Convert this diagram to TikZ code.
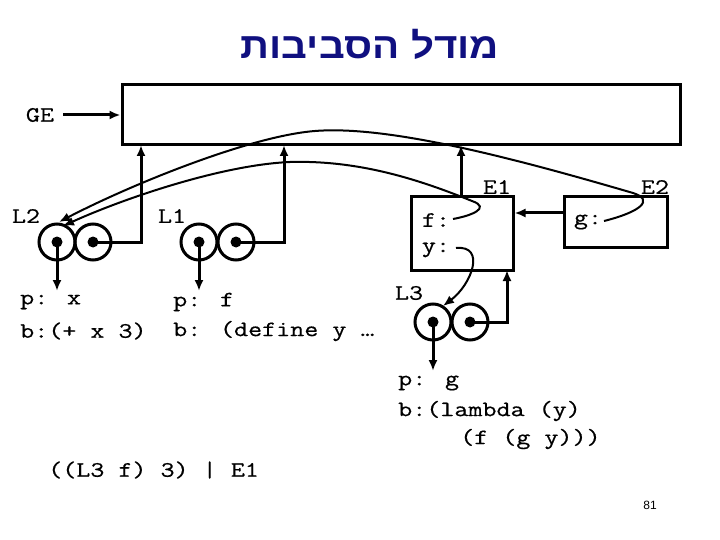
\documentclass[tikz,border=0pt]{standalone}
\usepackage{fontspec}
\setmainfont{Liberation Serif}
\newfontfamily\codefont[FakeStretch=1.24,FakeBold=0.6]{Latin Modern Mono}
\newfontfamily\hebfont[Script=Hebrew,FakeStretch=1.12]{Liberation Sans}
\newfontfamily\numfont{Liberation Sans}
\TeXXeTstate=1
\usetikzlibrary{arrows.meta,calc}
\definecolor{titleblue}{RGB}{16,16,128}
\begin{document}
\begin{tikzpicture}[x=1pt,y=-1pt,
  arr/.style={line width=3pt,-{Latex[length=11pt,width=9pt]}},
  curve/.style={line width=2pt,-{Latex[length=11pt,width=9pt]}},
  framebox/.style={draw,line width=3pt,inner sep=0pt},
  cell/.style={circle,draw,line width=3pt,minimum size=36pt,inner sep=0pt,
    path picture={\fill (path picture bounding box.center) circle (5.5pt);}},
  code/.style={font=\codefont\fontsize{22}{26}\selectfont,inner sep=0pt},
  codel/.style={code,anchor=west}]
\useasboundingbox (0,0) rectangle (720,540);
% title
\node[text=titleblue,font=\hebfont\bfseries\fontsize{36}{40}\selectfont] (title) at (370,44) {\beginR מודל הסביבות\endR};
% global environment
\node[framebox,minimum width=558pt,minimum height=60pt] (ge) at (401,115) {};
\node[code] (gelbl) at (40,115) {GE};
\coordinate (gein) at (63,115);
\draw[arr] (gein) -- (ge.west);
% L2
\node[code] (l2lbl) at (26,216) {L2};
\node[cell] (c2a) at (57,242) {};
\node[cell] (c2b) at (93,242) {};
\coordinate (c2down) at (57,291);
\draw[arr] (c2a.center) -- (c2down);
\coordinate (c2up) at (141,145);
\draw[arr] (c2b.center) -| (c2up);
\node[codel] (l2p) at (20,302) {p: x};
\node[codel] (l2b) at (20,331) {b:(+ x 3)};
% L1
\node[code] (l1lbl) at (172,216) {L1};
\node[cell] (c1a) at (199,242) {};
\node[cell] (c1b) at (236,242) {};
\coordinate (c1down) at (199,291);
\draw[arr] (c1a.center) -- (c1down);
\coordinate (c1up) at (284,145);
\draw[arr] (c1b.center) -| (c1up);
\node[codel] (l1p) at (173,302) {p: f};
\node[codel] (l1b) at (173,331) {b: (define y …};
% E1
\node[framebox,minimum width=102pt,minimum height=73pt] (e1) at (462,233.5) {};
\node[code] (e1lbl) at (497,187) {E1};
\node[code] (e1f) at (436,220) {f:};
\node[code] (e1y) at (436,250) {y:};
\coordinate (e1up) at (461,145);
\draw[arr] (e1.north -| e1up) -- (e1up);
% E2
\node[framebox,minimum width=103pt,minimum height=50pt] (e2) at (615.5,222) {};
\node[code] (e2lbl) at (655,187) {E2};
\node[code] (e2g) at (588,222) {g:};
\draw[arr] (e2.west |- 0,213) -- (e1.east |- 0,213);
% L3
\node[code] (l3lbl) at (409,293) {L3};
\node[cell] (c3a) at (433,322) {};
\node[cell] (c3b) at (470,322) {};
\coordinate (c3down) at (433,371);
\draw[arr] (c3a.center) -- (c3down);
\coordinate (c3up) at (507,270);
\draw[arr] (c3b.center) -| (c3up);
\node[codel] (l3p) at (398,383) {p: g};
\node[codel] (l3b) at (398,411) {b:(lambda (y)};
\node[codel] (l3b2) at (460,439) {(f (g y)))};
% pointers
\coordinate (gstart) at (604,221);
\coordinate (fstart) at (453,219);
\coordinate (ystart) at (456,248);
\coordinate (l2tipA) at (59,222);
\coordinate (l2tipB) at (63,226);
\coordinate (l3tip) at (443,306);
\draw[curve] (gstart) .. controls (640,212) and (655,200) .. (633,193)
  .. controls (520,160) and (390,125) .. (315,131)
  .. controls (250,136) and (130,185) .. (l2tipA);
\draw[curve] (fstart) .. controls (470,216) and (492,208) .. (472,201)
  .. controls (420,180) and (360,160) .. (290,162)
  .. controls (220,165) and (120,200) .. (l2tipB);
\draw[curve] (ystart) .. controls (486,245) and (472,284) .. (l3tip);
% bottom text
\node[codel] (expr) at (48,470) {((L3 f) 3) | E1};
\node[font=\numfont\fontsize{12}{14}\selectfont] (pagenum) at (650,505) {81};
\end{tikzpicture}
\end{document}
